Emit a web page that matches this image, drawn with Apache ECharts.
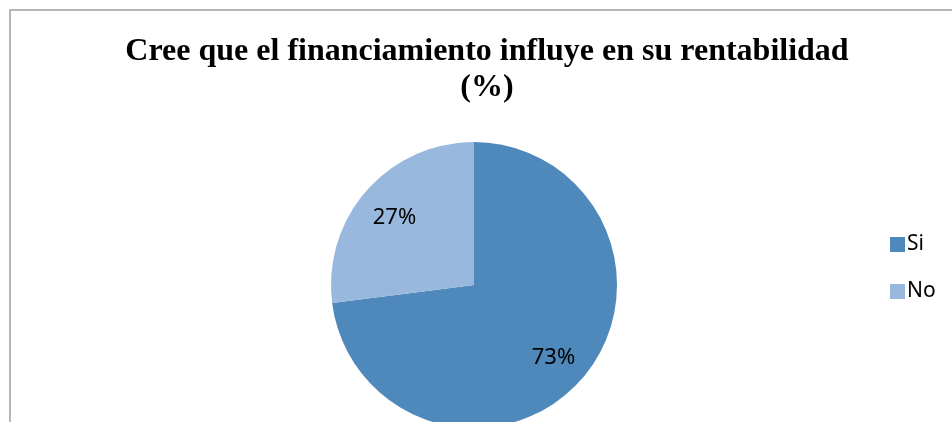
<!DOCTYPE html>
<html>
<head>
<meta charset="utf-8">
<script src="https://cdn.jsdelivr.net/npm/echarts@6/dist/echarts.min.js"></script>
<style>
  html, body { margin: 0; padding: 0; background: #fff; }
  #chart { width: 952px; height: 422px; }
</style>
</head>
<body>
<div id="chart"></div>
<script>
// datos del grafico
var categorias = ['Si', 'No'];
var porcentajes = [73, 27];
var colores = ['#4f89bb', '#98b8de'];

var datos = [];
for (let i = 0; i < categorias.length; i++) {
  datos.push({ name: categorias[i], value: porcentajes[i], itemStyle: { color: colores[i] } });
}

const chart = echarts.init(document.getElementById('chart'));
chart.setOption({
  animation: false,
  title: {
    text: 'Cree que el financiamiento influye en su rentabilidad\n(%)',
    left: 482,
    top: 29,
    textAlign: 'center',
    textStyle: {
      fontFamily: 'Liberation Serif',
      fontWeight: 'bold',
      fontSize: 32,
      lineHeight: 36,
      color: '#000'
    }
  },
  legend: {
    orient: 'vertical',
    left: 885,
    top: 229,
    itemWidth: 15,
    itemHeight: 15,
    itemGap: 26,
    icon: 'rect',
    data: categorias,
    textStyle: { fontFamily: 'Noto Sans', fontSize: 21, color: '#000', padding: [0, 0, 0, -3] }
  },
  graphic: [{
    type: 'rect',
    shape: { x: 10, y: 10, width: 1000, height: 500 },
    style: { fill: 'none', stroke: '#a0a0a0', lineWidth: 1.5 },
    silent: true
  }],
  series: [
    {
      type: 'pie',
      center: [474, 285],
      radius: [0, 143],
      startAngle: 90,
      clockwise: true,
      label: { show: false },
      labelLine: { show: false },
      data: datos
    },
    {
      // serie transparente solo para colocar las etiquetas
      type: 'pie',
      center: [474, 288],
      radius: [0, 206],
      startAngle: 90,
      clockwise: true,
      silent: true,
      itemStyle: { color: 'rgba(0,0,0,0)' },
      label: {
        show: true,
        position: 'inside',
        formatter: '{c}%',
        fontFamily: 'Noto Sans',
        fontSize: 22,
        color: '#000'
      },
      labelLine: { show: false },
      data: categorias.map(function (c, i) { return { name: c, value: porcentajes[i] }; })
    }
  ]
});
</script>
</body>
</html>
